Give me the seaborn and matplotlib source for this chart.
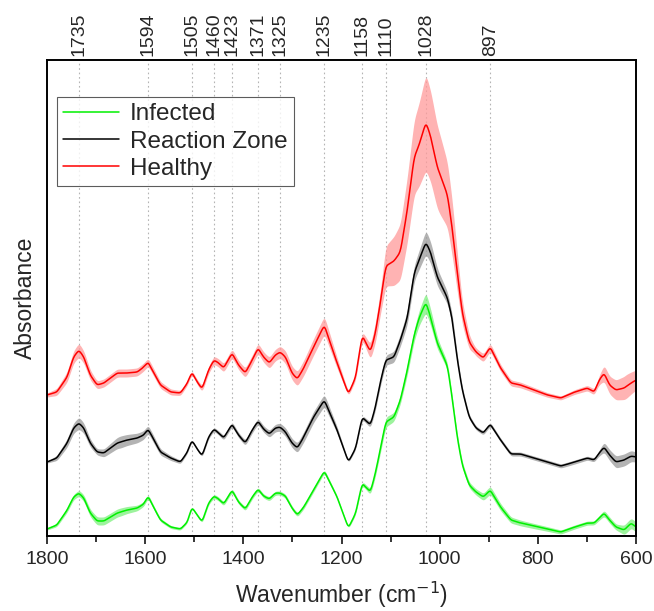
import numpy as np
import pandas as pd
import matplotlib
matplotlib.use('Agg')
import matplotlib.pyplot as plt
import seaborn as sns

# wavenumbers (cm-1) where the spectra were read
wn = [1800, 1780, 1759, 1746, 1735, 1725, 1712, 1698, 1684, 1657, 1637, 1616, 1603, 1594,
      1582, 1569, 1548, 1528, 1514, 1505, 1494, 1484, 1471, 1460, 1450, 1440, 1423, 1410,
      1396, 1382, 1370, 1359, 1347, 1335, 1325, 1314, 1301, 1290, 1277, 1257, 1235, 1209,
      1186, 1171, 1158, 1141, 1131, 1120, 1110, 1093, 1080, 1066, 1052, 1042, 1028, 1018,
      1005, 984, 974, 964, 954, 940, 926, 911, 897, 876, 855, 835, 808, 780, 753, 725,
      699, 685, 675, 665, 654, 641, 624, 610, 600]

# mean spectra (stacked, arbitrary absorbance units)
healthy = [.141, .144, .159, .179, .186, .179, .161, .151, .153, .163, .163, .164, .169, .174,
           .163, .151, .144, .143, .153, .164, .154, .147, .166, .176, .173, .168, .183, .171,
           .163, .176, .188, .179, .173, .181, .184, .179, .163, .157, .168, .189, .211, .173,
           .142, .159, .201, .184, .203, .236, .270, .275, .284, .326, .379, .391, .414, .399,
           .369, .341, .306, .263, .223, .194, .184, .178, .189, .168, .153, .151, .146, .141,
           .138, .144, .148, .144, .156, .163, .151, .146, .148, .153, .156]

reaction = [.074, .078, .093, .108, .113, .108, .093, .084, .083, .093, .096, .098, .101, .107,
            .096, .084, .078, .074, .084, .096, .087, .080, .099, .107, .103, .098, .112, .101,
            .093, .106, .115, .107, .102, .108, .109, .104, .093, .088, .099, .119, .136, .106,
            .074, .088, .119, .111, .129, .156, .176, .179, .196, .218, .263, .276, .294, .283,
            .259, .238, .216, .176, .146, .119, .108, .103, .112, .096, .082, .082, .078, .074,
            .070, .074, .078, .076, .083, .089, .081, .074, .076, .080, .079]

infected = [.007, .011, .026, .039, .043, .038, .023, .015, .015, .023, .026, .028, .032, .040,
            .028, .016, .009, .007, .014, .029, .021, .014, .033, .040, .037, .032, .046, .034,
            .027, .039, .047, .040, .037, .043, .043, .040, .028, .021, .029, .046, .065, .039,
            .008, .023, .053, .044, .063, .089, .114, .119, .136, .166, .201, .218, .234, .218,
            .193, .170, .136, .098, .071, .051, .044, .039, .046, .029, .016, .013, .010, .007,
            .004, .009, .013, .013, .018, .023, .016, .009, .006, .013, .009]

# standard deviation of each group
sd_wn = [1800, 1735, 1700, 1650, 1594, 1505, 1460, 1370, 1325, 1235, 1186, 1158, 1120, 1110,
         1080, 1050, 1028, 1000, 975, 955, 930, 897, 850, 750, 680, 665, 640, 620, 600]
healthy_sd = [.002, .007, .004, .004, .004, .002, .004, .005, .006, .009, .002, .004, .012, .020,
              .028, .038, .048, .040, .028, .012, .004, .004, .003, .002, .003, .008, .010, .012, .010]
reaction_sd = [.001, .006, .003, .006, .004, .001, .002, .003, .004, .006, .001, .002, .004, .005,
               .006, .008, .012, .008, .005, .003, .002, .002, .002, .002, .002, .005, .006, .006, .005]
infected_sd = [.001, .003, .004, .004, .002, .001, .002, .002, .002, .002, .001, .002, .004, .005,
               .004, .006, .010, .005, .003, .003, .003, .004, .003, .002, .002, .003, .003, .005, .005]

peaks = [1735, 1594, 1505, 1460, 1423, 1371, 1325, 1235, 1158, 1110, 1028, 897]

groups = ['Infected', 'Reaction Zone', 'Healthy']
colors = {'Infected': '#00f000', 'Reaction Zone': 'black', 'Healthy': '#ff0000'}
band_colors = {'Infected': '#7cf07c', 'Reaction Zone': '#9a9a9a', 'Healthy': '#ff9a9a'}
means = {'Infected': infected, 'Reaction Zone': reaction, 'Healthy': healthy}
sds = {'Infected': infected_sd, 'Reaction Zone': reaction_sd, 'Healthy': healthy_sd}

# resample on a 1 cm-1 grid and smooth a little so the peaks are not angular
grid = np.arange(600, 1801, 1.0)
kx = np.arange(-8, 9)
kern = np.exp(-0.5 * (kx / 2.5) ** 2)
kern /= kern.sum()


def smooth(x, y):
    order = np.argsort(x)
    yy = np.interp(grid, np.asarray(x)[order], np.asarray(y)[order])
    pad = np.pad(yy, 8, mode='edge')
    return np.convolve(pad, kern, mode='valid')


rows = []
for g in groups:
    m = smooth(wn, means[g])
    s = smooth(sd_wn, sds[g])
    rows.append(pd.DataFrame({'wavenumber': grid, 'absorbance': m, 'sd': s, 'group': g}))
df = pd.concat(rows, ignore_index=True)

sns.set_style('white')
plt.rcParams['font.family'] = ['Liberation Sans', 'DejaVu Sans']

fig = plt.figure(figsize=(6.54, 6.11), dpi=100)
ax = fig.add_axes([0.0719, 0.1227, 0.9006, 0.7791])

for x in peaks:
    ax.axvline(x, color='#b4b4b4', ls=(0, (1.5, 2.5)), lw=0.8, zorder=0)

for g in groups:
    d = df[df['group'] == g]
    ax.fill_between(d['wavenumber'], d['absorbance'] - d['sd'], d['absorbance'] + d['sd'],
                    color=band_colors[g], lw=0, alpha=0.75, zorder=1)

sns.lineplot(data=df, x='wavenumber', y='absorbance', hue='group', hue_order=groups,
             palette=colors, lw=1.1, ax=ax, zorder=2, sort=False, estimator=None)

ax.set_xlim(1800, 600)
ax.set_ylim(0, 0.476)
ax.set_yticks([])
ax.set_xticks(np.arange(600, 1801, 200))
ax.set_xticks(np.arange(700, 1800, 200), minor=True)
ax.tick_params(axis='x', which='major', direction='out', length=6, width=1.3,
               labelsize=14, bottom=True, pad=5)
ax.tick_params(axis='x', which='minor', direction='out', length=4, width=1.3, bottom=True)
ax.set_xlabel('Wavenumber (cm$^{-1}$)', fontsize=16.5, labelpad=8)
ax.set_ylabel('Absorbance', fontsize=16.5, labelpad=7)
for sp in ax.spines.values():
    sp.set_visible(True)
    sp.set_color('black')
    sp.set_linewidth(1.4)

top = ax.twiny()
top.set_xlim(ax.get_xlim())
top.set_xticks(peaks)
top.set_xticklabels([str(p) for p in peaks], rotation=90, fontsize=14)
top.tick_params(axis='x', length=0, pad=3)
for sp in top.spines.values():
    sp.set_visible(False)

leg = ax.legend(loc='upper left', bbox_to_anchor=(0.017, 0.922), fontsize=17.5, frameon=True,
                fancybox=False, edgecolor='#333333', borderpad=0.25, handlelength=2.3,
                labelspacing=0.22, handletextpad=0.45, borderaxespad=0)
leg.get_frame().set_linewidth(0.8)
for h in leg.get_lines():
    h.set_linewidth(1.1)

fig.savefig('out.png', dpi=100)
